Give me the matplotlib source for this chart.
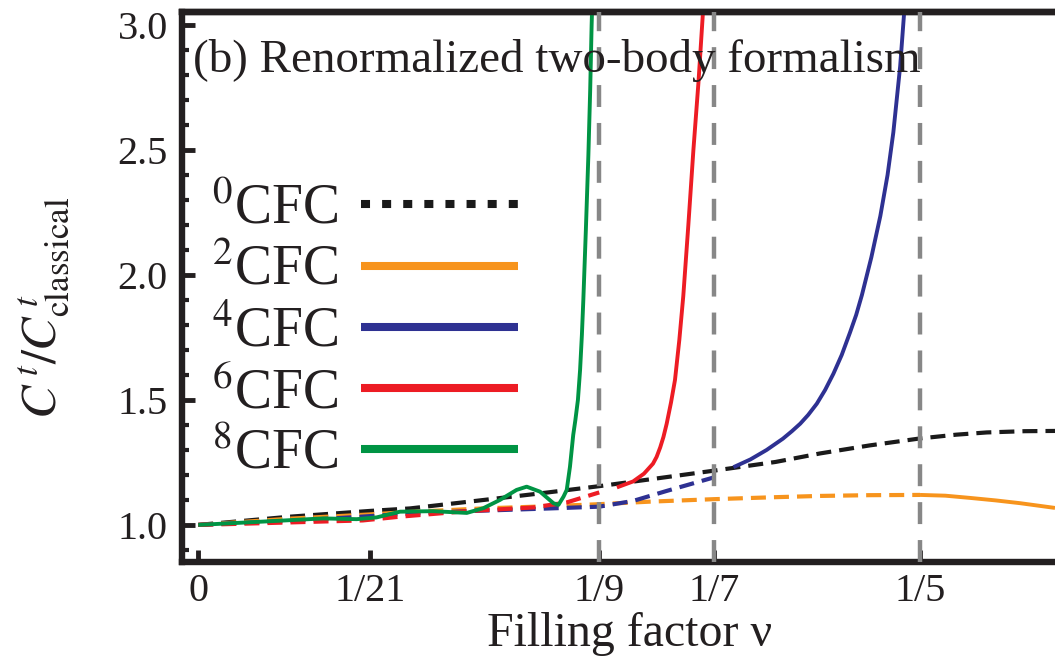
import matplotlib
matplotlib.use("Agg")
import matplotlib.pyplot as plt
from matplotlib.lines import Line2D
from matplotlib.ticker import MultipleLocator

plt.rcParams['font.family'] = ['Liberation Serif', 'DejaVu Serif']
plt.rcParams['mathtext.fontset'] = 'stix'
plt.rcParams['lines.scale_dashes'] = False

# Filling factor ticks
tick_values = [0, 1/21, 1/9, 1/7, 1/5]
tick_labels = ['0', '1/21', '1/9', '1/7', '1/5']
marker_fractions = [1/9, 1/7, 1/5]

# 0CFC
nu_0 = [0, 0.0254, 0.0476, 0.0587, 0.0744, 0.0929, 0.1111, 0.1250, 0.142857,
        0.1600, 0.1723, 0.1860, 0.2000, 0.2100, 0.2185, 0.2290, 0.2374]
ratio_0 = [1.0, 1.033, 1.056, 1.066, 1.092, 1.123, 1.155, 1.182, 1.217,
           1.252, 1.286, 1.318, 1.346, 1.361, 1.370, 1.375, 1.376]

# 2CFC
nu_2 = [0, 0.0254, 0.0476, 0.0587, 0.0789, 0.0975, 0.1111, 0.1250, 0.142857,
        0.1600, 0.1723, 0.1860, 0.2000, 0.2070, 0.2139, 0.2210, 0.2277, 0.2374]
ratio_2 = [1.0, 1.025, 1.042, 1.052, 1.066, 1.075, 1.083, 1.093, 1.103,
           1.111, 1.116, 1.119, 1.120, 1.117, 1.108, 1.098, 1.087, 1.068]

# 4CFC
nu_4 = [0, 0.0254, 0.0420, 0.0559, 0.0744, 0.0975, 0.1111, 0.1205, 0.1298,
        0.142857, 0.1483, 0.1530, 0.1575, 0.1620, 0.1645, 0.1668, 0.1690,
        0.1714, 0.1737, 0.1760, 0.1783, 0.1806, 0.1823, 0.1839, 0.1865,
        0.1890, 0.1910, 0.1926, 0.1945, 0.1956, 0.1968]
ratio_4 = [1.0, 1.016, 1.030, 1.043, 1.055, 1.066, 1.073, 1.096, 1.136,
           1.190, 1.231, 1.262, 1.300, 1.345, 1.375, 1.405, 1.440,
           1.485, 1.540, 1.605, 1.680, 1.770, 1.840, 1.920, 2.070,
           2.236, 2.400, 2.570, 2.836, 3.050, 3.300]

# 6CFC
nu_6 = [0, 0.0254, 0.0456, 0.0559, 0.0744, 0.0929, 0.1021, 0.111111, 0.1160,
        0.1205, 0.1235, 0.1260, 0.1270, 0.1280, 0.1289, 0.1298, 0.1310,
        0.1321, 0.1333, 0.1344, 0.1358, 0.1372, 0.1386, 0.1398, 0.1408]
ratio_6 = [1.0, 1.010, 1.018, 1.033, 1.055, 1.070, 1.090, 1.130, 1.150,
           1.174, 1.205, 1.245, 1.272, 1.310, 1.352, 1.405, 1.490,
           1.580, 1.740, 1.916, 2.200, 2.500, 2.770, 3.040, 3.300]

# 8CFC
nu_8 = [0, 0.0162, 0.0346, 0.0439, 0.0494, 0.0559, 0.0651, 0.0744, 0.0790,
        0.0836, 0.0882, 0.0910, 0.0947, 0.0984, 0.0998, 0.1012, 0.1021,
        0.1030, 0.1039, 0.1045, 0.1052, 0.1058, 0.1063, 0.1067, 0.1074,
        0.1081, 0.1086, 0.1090, 0.1096]
ratio_8 = [1.0, 1.012, 1.026, 1.023, 1.030, 1.053, 1.055, 1.048, 1.067,
           1.100, 1.140, 1.153, 1.133, 1.087, 1.080, 1.113, 1.140,
           1.233, 1.360, 1.420, 1.500, 1.620, 1.760, 1.900, 2.180,
           2.480, 2.740, 3.000, 3.300]

labels = ['$^{0}$CFC', '$^{2}$CFC', '$^{4}$CFC', '$^{6}$CFC', '$^{8}$CFC']
colors = ['#1a1a1a', '#f7941d', '#2e3192', '#ed1c24', '#009444']
# each curve is dashed below this filling factor and solid above it
solid_from = [float('inf'), 1/5, 1/7, 1/9, 0.0]

nus = [nu_0, nu_2, nu_4, nu_6, nu_8]
ratios = [ratio_0, ratio_2, ratio_4, ratio_6, ratio_8]

fig = plt.figure(figsize=(10.55, 6.6), dpi=100)
ax = fig.add_axes([0.1722, 0.149, 1.0 - 0.1722, 0.9814 - 0.149])

dash = (0, (10.8, 5.8))
ink = '#231f20'

for nu, ratio, color, start in zip(nus, ratios, colors, solid_from):
    dashed_x = [x for x in nu if x <= start + 1e-9]
    dashed_y = [y for x, y in zip(nu, ratio) if x <= start + 1e-9]
    solid_x = [x for x in nu if x >= start - 1e-9]
    solid_y = [y for x, y in zip(nu, ratio) if x >= start - 1e-9]
    if len(dashed_x) > 1:
        ax.plot(dashed_x, dashed_y, color=color, lw=3.0, ls=dash, zorder=2)
    if len(solid_x) > 1:
        ax.plot(solid_x, solid_y, color=color, lw=2.8, solid_capstyle='butt',
                solid_joinstyle='round', zorder=2.5)

for xv in marker_fractions:
    ax.axvline(xv, color='#878787', lw=3.2, ls=(0, (15.8, 11.5)), zorder=3)

ax.set_xlim(-0.0046, 0.2374)
ax.set_ylim(0.853, 3.051)

ax.set_xticks(tick_values)
ax.set_xticklabels(tick_labels)
ax.yaxis.set_minor_locator(MultipleLocator(0.1))
ax.set_yticks([1.0, 1.5, 2.0, 2.5, 3.0])
ax.set_yticklabels(['1.0', '1.5', '2.0', '2.5', '3.0'])

ax.tick_params(axis='x', which='major', direction='in', length=9, width=3.5,
               labelsize=29, pad=8, color=ink, labelcolor=ink)
ax.tick_params(axis='y', which='major', direction='in', length=9, width=3.5,
               labelsize=29, pad=10, color=ink, labelcolor=ink)
ax.tick_params(axis='y', which='minor', direction='in', length=5, width=3.0,
               color=ink)

for side in ['left', 'bottom', 'top']:
    ax.spines[side].set_linewidth(4.6)
    ax.spines[side].set_color(ink)
ax.spines['right'].set_visible(False)

top = ax.secondary_xaxis('top')
top.set_xticks(tick_values)
top.tick_params(direction='out', length=2.5, width=3.5, labeltop=False, color=ink)
top.spines['top'].set_linewidth(4.6)
top.spines['top'].set_color(ink)

ax.set_xlabel('Filling factor ν', fontsize=34.5, color=ink)
ax.xaxis.set_label_coords(0.513, -0.092)
ax.set_ylabel(r'$C^{\,t}/C^{\,t}_{\mathrm{classical}}$', fontsize=36, color=ink)
ax.yaxis.set_label_coords(-0.1256, 0.4627)

ax.text(0.0129, 0.8913, '(b) Renormalized two-body formalism', fontsize=33.8,
        color=ink, va='baseline', ha='left', transform=ax.transAxes)

legend_styles = [(0, (6.5, 8.7)), '-', '-', '-', '-']
handles = [Line2D([], [], color=c, lw=5.8, ls=s, solid_capstyle='butt')
           for c, s in zip(colors, legend_styles)]
ax.legend(handles, labels, loc='upper left', bbox_to_anchor=(0.0347, 0.688),
          frameon=False, markerfirst=False, fontsize=40, borderpad=0,
          borderaxespad=0, handlelength=2.82, handletextpad=0.41,
          labelspacing=0.167, labelcolor=ink)

fig.savefig('out.png', dpi=100)
